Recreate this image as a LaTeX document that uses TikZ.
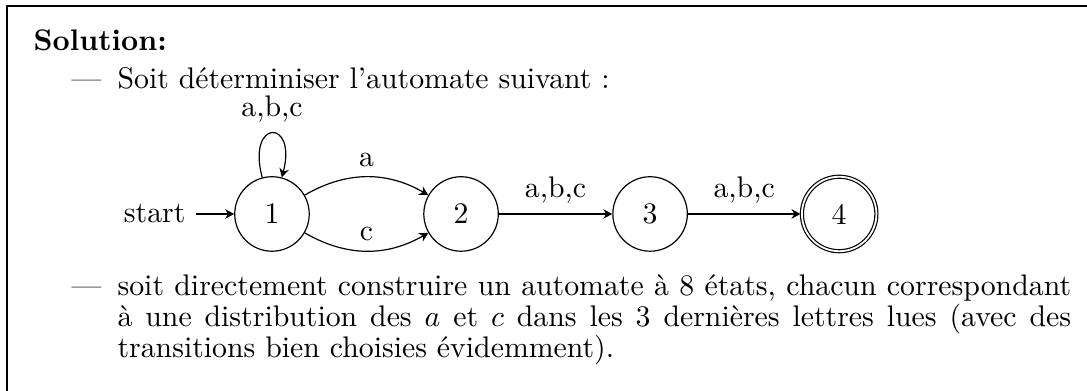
\documentclass[tikz,border=0pt]{standalone}
\usepackage{tikz}
\usetikzlibrary{
    positioning,
    arrows.meta,
    automata
}

\begin{document}
\begin{tikzpicture}[
    node distance=2.23cm,
    txt/.style={
        inner sep=0pt,
        font=\normalsize
    },
    frame/.style={
        draw,
        line width=0.5pt
    },
    arrow/.style={
        -{Stealth[length=3pt,width=3.2pt]}
    }
]

\useasboundingbox (0,0) rectangle (364.8pt,-131.2pt);

% ============================================================
% FRAME
% ============================================================

\draw[frame] (2.35pt,-140pt) |- (370pt,-2.01pt);

% ============================================================
% HEADING AND FIRST ITEM
% ============================================================

\node[txt, anchor=base west] (title) at (11.07pt,-16.78pt)
{
\textbf{Solution:}
};

\node[txt, anchor=base east] (dashone) at (34.26pt,-29.63pt)
{
\textemdash
};

\node[txt, anchor=base west] (itemone) at (39.26pt,-29.63pt)
{
Soit déterminiser l’automate suivant :
};

% ============================================================
% STATES
% ============================================================

\node[state] (q1) at (91.28pt,-71.81pt) {1};
\node[state, on grid, right=of q1] (q2) {2};
\node[state, on grid, right=of q2] (q3) {3};
\node[state, accepting, on grid, right=of q3] (q4) {4};

\node[left=12.8pt of q1] (start) {start};

% ============================================================
% TRANSITIONS
% ============================================================

\draw[arrow] (start) -- (q1);
\draw[arrow] (q1) to[loop above] node[above] {a,b,c} (q1);
\draw[arrow] (q1) to[bend left] node[above] {a} (q2);
\draw[arrow] (q1) to[bend right] node[above] {c} (q2);
\draw[arrow] (q2) -- node[above] {a,b,c} (q3);
\draw[arrow] (q3) -- node[above] {a,b,c} (q4);

% ============================================================
% SECOND ITEM
% ============================================================

\node[txt, anchor=base east] (dashtwo) at (34.26pt,-99.33pt)
{
\textemdash
};

\node[txt, anchor=base west] (itemtwo) at (39.26pt,-99.33pt)
{
\parbox[t]{320pt}{\fontsize{10}{10.3}\selectfont
soit directement construire un automate à 8 états, chacun correspondant
à une distribution des $a$ et $c$ dans les 3 dernières lettres lues (avec des
transitions bien choisies évidemment).}
};

\end{tikzpicture}
\end{document}
